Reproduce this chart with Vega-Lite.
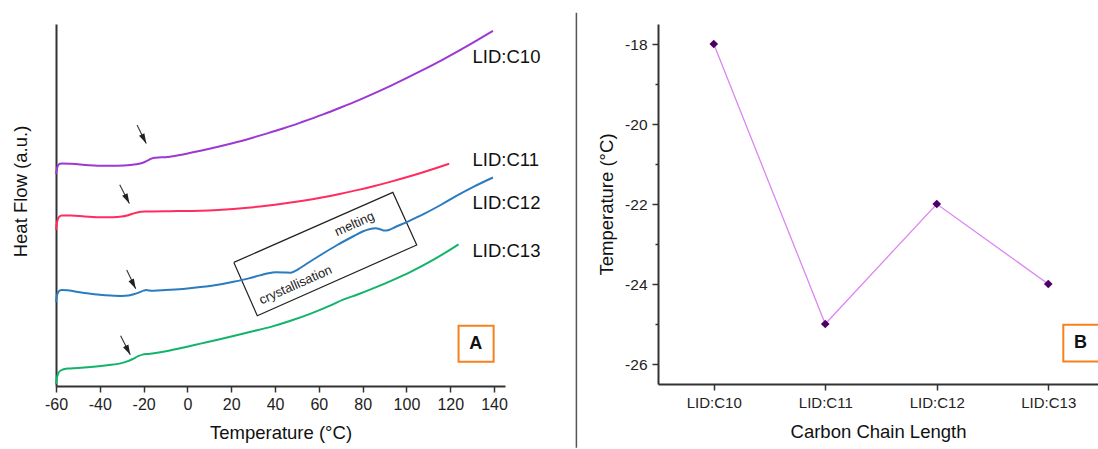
{
  "$schema": "https://vega.github.io/schema/vega-lite/v6.json",
  "background": "white",
  "padding": {"left": 11, "top": 11, "right": 0, "bottom": 0},
  "bounds": "flush",
  "spacing": 153,
  "config": {
    "font": "Liberation Sans",
    "view": {"stroke": null},
    "axis": {
      "grid": false,
      "domainColor": "#333",
      "domainWidth": 2,
      "tickColor": "#333",
      "tickWidth": 1.5,
      "labelFont": "Liberation Sans",
      "labelFontSize": 15.5,
      "labelColor": "#222",
      "titleFont": "Liberation Sans",
      "titleFontSize": 18.5,
      "titleFontWeight": "normal",
      "titleColor": "#111"
    }
  },
  "datasets": {
    "dsc": [
      {"sample": "LID:C10", "T": -60.0, "hf": 212},
      {"sample": "LID:C10", "T": -59.5, "hf": 218},
      {"sample": "LID:C10", "T": -58.8, "hf": 221.5},
      {"sample": "LID:C10", "T": -57.5, "hf": 222.6},
      {"sample": "LID:C10", "T": -53, "hf": 222.2},
      {"sample": "LID:C10", "T": -45, "hf": 220.8},
      {"sample": "LID:C10", "T": -38, "hf": 220.2},
      {"sample": "LID:C10", "T": -32, "hf": 220.3},
      {"sample": "LID:C10", "T": -26, "hf": 221},
      {"sample": "LID:C10", "T": -22, "hf": 222.2},
      {"sample": "LID:C10", "T": -19.5, "hf": 224},
      {"sample": "LID:C10", "T": -17.5, "hf": 226.2},
      {"sample": "LID:C10", "T": -16, "hf": 227.8},
      {"sample": "LID:C10", "T": -14.5, "hf": 228.3},
      {"sample": "LID:C10", "T": -9, "hf": 229},
      {"sample": "LID:C10", "T": -2, "hf": 231.6},
      {"sample": "LID:C10", "T": 6, "hf": 235.2},
      {"sample": "LID:C10", "T": 14, "hf": 239.2},
      {"sample": "LID:C10", "T": 21, "hf": 243.0},
      {"sample": "LID:C10", "T": 29, "hf": 247.8},
      {"sample": "LID:C10", "T": 36.5, "hf": 252.6},
      {"sample": "LID:C10", "T": 44, "hf": 257.7},
      {"sample": "LID:C10", "T": 52, "hf": 263.7},
      {"sample": "LID:C10", "T": 62, "hf": 271.6},
      {"sample": "LID:C10", "T": 70, "hf": 278.5},
      {"sample": "LID:C10", "T": 78, "hf": 285.7},
      {"sample": "LID:C10", "T": 85, "hf": 292.4},
      {"sample": "LID:C10", "T": 93, "hf": 300.4},
      {"sample": "LID:C10", "T": 100, "hf": 307.8},
      {"sample": "LID:C10", "T": 108, "hf": 316.6},
      {"sample": "LID:C10", "T": 116, "hf": 325.7},
      {"sample": "LID:C10", "T": 123, "hf": 334.1},
      {"sample": "LID:C10", "T": 131, "hf": 344.1},
      {"sample": "LID:C10", "T": 139.5, "hf": 355.1},

      {"sample": "LID:C11", "T": -60.0, "hf": 156},
      {"sample": "LID:C11", "T": -59.5, "hf": 164},
      {"sample": "LID:C11", "T": -58.8, "hf": 168.5},
      {"sample": "LID:C11", "T": -57.5, "hf": 170.6},
      {"sample": "LID:C11", "T": -53, "hf": 170.4},
      {"sample": "LID:C11", "T": -47, "hf": 169.6},
      {"sample": "LID:C11", "T": -40, "hf": 168.8},
      {"sample": "LID:C11", "T": -34, "hf": 168.8},
      {"sample": "LID:C11", "T": -30, "hf": 169.4},
      {"sample": "LID:C11", "T": -27.5, "hf": 170.5},
      {"sample": "LID:C11", "T": -25, "hf": 172.3},
      {"sample": "LID:C11", "T": -22.5, "hf": 173.8},
      {"sample": "LID:C11", "T": -19.5, "hf": 174.4},
      {"sample": "LID:C11", "T": -16, "hf": 174.5},
      {"sample": "LID:C11", "T": -8, "hf": 174.8},
      {"sample": "LID:C11", "T": -1.5, "hf": 175.0},
      {"sample": "LID:C11", "T": 6, "hf": 175.3},
      {"sample": "LID:C11", "T": 14, "hf": 176.1},
      {"sample": "LID:C11", "T": 21, "hf": 177.1},
      {"sample": "LID:C11", "T": 29, "hf": 178.6},
      {"sample": "LID:C11", "T": 36, "hf": 180.2},
      {"sample": "LID:C11", "T": 44, "hf": 182.4},
      {"sample": "LID:C11", "T": 52, "hf": 185.0},
      {"sample": "LID:C11", "T": 62, "hf": 188.8},
      {"sample": "LID:C11", "T": 70, "hf": 192.3},
      {"sample": "LID:C11", "T": 78, "hf": 196.1},
      {"sample": "LID:C11", "T": 85, "hf": 199.8},
      {"sample": "LID:C11", "T": 93, "hf": 204.4},
      {"sample": "LID:C11", "T": 100, "hf": 208.7},
      {"sample": "LID:C11", "T": 108, "hf": 214.0},
      {"sample": "LID:C11", "T": 114, "hf": 218.2},
      {"sample": "LID:C11", "T": 119.5, "hf": 222.2},

      {"sample": "LID:C12", "T": -60.0, "hf": 84},
      {"sample": "LID:C12", "T": -59.5, "hf": 91},
      {"sample": "LID:C12", "T": -58.8, "hf": 94.5},
      {"sample": "LID:C12", "T": -57.5, "hf": 96},
      {"sample": "LID:C12", "T": -55, "hf": 95.8},
      {"sample": "LID:C12", "T": -50, "hf": 94},
      {"sample": "LID:C12", "T": -45, "hf": 92.4},
      {"sample": "LID:C12", "T": -40, "hf": 91.2},
      {"sample": "LID:C12", "T": -35, "hf": 90.4},
      {"sample": "LID:C12", "T": -30, "hf": 90},
      {"sample": "LID:C12", "T": -27, "hf": 90.4},
      {"sample": "LID:C12", "T": -24.5, "hf": 91.8},
      {"sample": "LID:C12", "T": -22, "hf": 93.6},
      {"sample": "LID:C12", "T": -20, "hf": 95.4},
      {"sample": "LID:C12", "T": -18.8, "hf": 96},
      {"sample": "LID:C12", "T": -17.5, "hf": 95.5},
      {"sample": "LID:C12", "T": -15.5, "hf": 95.3},
      {"sample": "LID:C12", "T": -10, "hf": 95.9},
      {"sample": "LID:C12", "T": -2, "hf": 97.1},
      {"sample": "LID:C12", "T": 6, "hf": 98.9},
      {"sample": "LID:C12", "T": 14, "hf": 101.3},
      {"sample": "LID:C12", "T": 21, "hf": 104.2},
      {"sample": "LID:C12", "T": 28, "hf": 107.6},
      {"sample": "LID:C12", "T": 33, "hf": 110.6},
      {"sample": "LID:C12", "T": 37, "hf": 112.8},
      {"sample": "LID:C12", "T": 40.5, "hf": 113.7},
      {"sample": "LID:C12", "T": 44, "hf": 113.6},
      {"sample": "LID:C12", "T": 47, "hf": 113.3},
      {"sample": "LID:C12", "T": 49, "hf": 114.8},
      {"sample": "LID:C12", "T": 51.5, "hf": 118},
      {"sample": "LID:C12", "T": 55, "hf": 123},
      {"sample": "LID:C12", "T": 60.8, "hf": 131},
      {"sample": "LID:C12", "T": 68.4, "hf": 141},
      {"sample": "LID:C12", "T": 76, "hf": 150},
      {"sample": "LID:C12", "T": 80, "hf": 154.5},
      {"sample": "LID:C12", "T": 83, "hf": 156.8},
      {"sample": "LID:C12", "T": 86, "hf": 157.7},
      {"sample": "LID:C12", "T": 88, "hf": 156.8},
      {"sample": "LID:C12", "T": 90, "hf": 155.4},
      {"sample": "LID:C12", "T": 92, "hf": 156},
      {"sample": "LID:C12", "T": 94.5, "hf": 158.5},
      {"sample": "LID:C12", "T": 100.4, "hf": 164.2},
      {"sample": "LID:C12", "T": 108, "hf": 172.1},
      {"sample": "LID:C12", "T": 115.6, "hf": 181},
      {"sample": "LID:C12", "T": 123, "hf": 190.3},
      {"sample": "LID:C12", "T": 131, "hf": 199.6},
      {"sample": "LID:C12", "T": 139.5, "hf": 208.5},

      {"sample": "LID:C13", "T": -60.0, "hf": 2},
      {"sample": "LID:C13", "T": -59.6, "hf": 8},
      {"sample": "LID:C13", "T": -59, "hf": 12.5},
      {"sample": "LID:C13", "T": -57.9, "hf": 15.5},
      {"sample": "LID:C13", "T": -54.8, "hf": 17.4},
      {"sample": "LID:C13", "T": -50, "hf": 18},
      {"sample": "LID:C13", "T": -44.2, "hf": 19},
      {"sample": "LID:C13", "T": -36.6, "hf": 20.8},
      {"sample": "LID:C13", "T": -30.5, "hf": 22.6},
      {"sample": "LID:C13", "T": -27.5, "hf": 24.6},
      {"sample": "LID:C13", "T": -25, "hf": 27},
      {"sample": "LID:C13", "T": -22.5, "hf": 29.8},
      {"sample": "LID:C13", "T": -20.5, "hf": 31.4},
      {"sample": "LID:C13", "T": -18, "hf": 32.1},
      {"sample": "LID:C13", "T": -16, "hf": 32.6},
      {"sample": "LID:C13", "T": -8, "hf": 35.5},
      {"sample": "LID:C13", "T": -1.6, "hf": 38.6},
      {"sample": "LID:C13", "T": 6, "hf": 42.4},
      {"sample": "LID:C13", "T": 13.8, "hf": 46.3},
      {"sample": "LID:C13", "T": 21, "hf": 50},
      {"sample": "LID:C13", "T": 28.9, "hf": 54.2},
      {"sample": "LID:C13", "T": 38.5, "hf": 59.4},
      {"sample": "LID:C13", "T": 47.1, "hf": 65.2},
      {"sample": "LID:C13", "T": 56.3, "hf": 72.4},
      {"sample": "LID:C13", "T": 65.4, "hf": 80.6},
      {"sample": "LID:C13", "T": 71.4, "hf": 86.6},
      {"sample": "LID:C13", "T": 73.6, "hf": 88.4},
      {"sample": "LID:C13", "T": 76.8, "hf": 90.8},
      {"sample": "LID:C13", "T": 85.9, "hf": 98.6},
      {"sample": "LID:C13", "T": 94, "hf": 106.2},
      {"sample": "LID:C13", "T": 101.9, "hf": 114.2},
      {"sample": "LID:C13", "T": 112.4, "hf": 126.4},
      {"sample": "LID:C13", "T": 118, "hf": 133.6},
      {"sample": "LID:C13", "T": 123.8, "hf": 141.6}
    ],
    "tg": [
      {"sample": "LID:C10", "carbons": 10, "Tg": -18},
      {"sample": "LID:C11", "carbons": 11, "Tg": -25},
      {"sample": "LID:C12", "carbons": 12, "Tg": -22},
      {"sample": "LID:C13", "carbons": 13, "Tg": -24}
    ],
    "arrows": [
      {"sample": "LID:C10", "T": -23.0, "hf": 261, "T2": -18.8, "hf2": 242.6},
      {"sample": "LID:C11", "T": -30.9, "hf": 201.3, "T2": -26.5, "hf2": 182.6},
      {"sample": "LID:C12", "T": -27.7, "hf": 116, "T2": -23.6, "hf2": 97.3},
      {"sample": "LID:C13", "T": -30.5, "hf": 50.3, "T2": -26.1, "hf2": 31.3}
    ],
    "box": [
      {"corner": 1, "T": 21.2, "hf": 123.6},
      {"corner": 2, "T": 31.9, "hf": 70.3},
      {"corner": 3, "T": 104.7, "hf": 141},
      {"corner": 4, "T": 93.8, "hf": 193.6},
      {"corner": 5, "T": 21.2, "hf": 123.6}
    ],
    "notes": [
      {"note": "crystallisation", "T": 49.4, "hf": 101},
      {"note": "melting", "T": 76.3, "hf": 162}
    ],
    "curveLabels": [
      {"sample": "LID:C10", "T": 130.2, "hf": 329.3},
      {"sample": "LID:C11", "T": 130.2, "hf": 226},
      {"sample": "LID:C12", "T": 130.2, "hf": 182.6},
      {"sample": "LID:C13", "T": 130.2, "hf": 135}
    ]
  },
  "hconcat": [
    {
      "width": 449,
      "height": 362,
      "layer": [
        {
          "data": {"values": [{}]},
          "mark": {"type": "rule", "color": "#555", "strokeWidth": 1.5},
          "encoding": {
            "x": {"datum": 177.6, "type": "quantitative"},
            "y": {"datum": 373.3, "type": "quantitative"},
            "y2": {"datum": -61.7}
          }
        },
        {
          "data": {"name": "box"},
          "mark": {"type": "line", "color": "#222", "strokeWidth": 1.2},
          "encoding": {
            "x": {"field": "T", "type": "quantitative"},
            "y": {"field": "hf", "type": "quantitative"},
            "order": {"field": "corner"}
          }
        },
        {
          "data": {"name": "dsc"},
          "mark": {"type": "line", "strokeWidth": 2, "interpolate": "monotone"},
          "encoding": {
            "x": {
              "field": "T",
              "type": "quantitative",
              "scale": {"domain": [-60, 145], "nice": false, "zero": false},
              "axis": {
                "title": "Temperature (°C)",
                "values": [-60, -50, -40, -30, -20, -10, 0, 10, 20, 30, 40, 50, 60, 70, 80, 90, 100, 110, 120, 130, 140],
                "labelExpr": "datum.value % 20 === 0 ? '' + datum.value : ''",
                "labelOverlap": false,
                "labelFlush": false,
                "labelFontSize": 16,
                "tickSize": {"condition": {"test": "datum.value % 20 === 0", "value": 6}, "value": 3.5},
                "labelPadding": 4,
                "titlePadding": 11
              }
            },
            "y": {
              "field": "hf",
              "type": "quantitative",
              "scale": {"domain": [0, 362], "nice": false, "zero": false},
              "axis": {
                "title": "Heat Flow (a.u.)",
                "labels": false,
                "ticks": false,
                "titlePadding": 26,
                "titleY": 167
              }
            },
            "color": {
              "field": "sample",
              "type": "nominal",
              "scale": {
                "domain": ["LID:C10", "LID:C11", "LID:C12", "LID:C13"],
                "range": ["#9d38d2", "#ff2d5f", "#2b7bbf", "#12b36a"]
              },
              "legend": null
            }
          }
        },
        {
          "data": {"name": "arrows"},
          "mark": {"type": "rule", "color": "#333", "strokeWidth": 1.1},
          "encoding": {
            "x": {"field": "T", "type": "quantitative"},
            "y": {"field": "hf", "type": "quantitative"},
            "x2": {"field": "T2"},
            "y2": {"field": "hf2"}
          }
        },
        {
          "data": {"name": "arrows"},
          "mark": {
            "type": "point",
            "shape": "M0,0L-0.3,-1L0.3,-1Z",
            "size": 400,
            "angle": 333,
            "filled": true,
            "opacity": 1,
            "color": "#222"
          },
          "encoding": {
            "x": {"field": "T2", "type": "quantitative"},
            "y": {"field": "hf2", "type": "quantitative"}
          }
        },
        {
          "data": {"name": "notes"},
          "mark": {
            "type": "text",
            "fontSize": 13,
            "angle": 336,
            "align": "center",
            "baseline": "middle",
            "color": "#222"
          },
          "encoding": {
            "x": {"field": "T", "type": "quantitative"},
            "y": {"field": "hf", "type": "quantitative"},
            "text": {"field": "note"}
          }
        },
        {
          "data": {"name": "curveLabels"},
          "mark": {
            "type": "text",
            "fontSize": 18.5,
            "align": "left",
            "baseline": "middle",
            "color": "#111"
          },
          "encoding": {
            "x": {"field": "T", "type": "quantitative"},
            "y": {"field": "hf", "type": "quantitative"},
            "text": {"field": "sample"}
          }
        },
        {
          "data": {"values": [{}]},
          "mark": {"type": "rect", "fill": "white", "stroke": "#f5821f", "strokeWidth": 2},
          "encoding": {
            "x": {"datum": 123.8, "type": "quantitative"},
            "x2": {"datum": 139.8},
            "y": {"datum": 24.3, "type": "quantitative"},
            "y2": {"datum": 60.3}
          }
        },
        {
          "data": {"values": [{}]},
          "mark": {
            "type": "text",
            "text": "A",
            "fontSize": 18,
            "fontWeight": "bold",
            "align": "center",
            "baseline": "middle",
            "color": "#111"
          },
          "encoding": {
            "x": {"datum": 131.7, "type": "quantitative"},
            "y": {"datum": 42, "type": "quantitative"}
          }
        }
      ]
    },
    {
      "width": 440,
      "height": 360,
      "data": {"name": "tg"},
      "layer": [
        {
          "mark": {"type": "line", "color": "#dc86f2", "strokeWidth": 1.3},
          "encoding": {
            "x": {
              "field": "carbons",
              "type": "quantitative",
              "scale": {"domain": [9.5, 13.446], "nice": false, "zero": false},
              "axis": {
                "title": "Carbon Chain Length",
                "values": [10, 11, 12, 13],
                "labelExpr": "'LID:C' + datum.value",
                "labelOverlap": false,
                "labelFlush": false,
                "labelFontSize": 15,
                "tickSize": 6,
                "labelPadding": 5,
                "titlePadding": 12
              }
            },
            "y": {
              "field": "Tg",
              "type": "quantitative",
              "scale": {"domain": [-26.5, -17.5], "nice": false, "zero": false},
              "axis": {
                "title": "Temperature (°C)",
                "values": [-26, -25, -24, -23, -22, -21, -20, -19, -18],
                "labelExpr": "datum.value % 2 === 0 ? '' + datum.value : ''",
                "labelOverlap": false,
                "labelFlush": false,
                "tickSize": {"condition": {"test": "datum.value % 2 === 0", "value": 6}, "value": 3},
                "labelPadding": 5,
                "titlePadding": 8
              }
            }
          }
        },
        {
          "mark": {"type": "point", "shape": "diamond", "filled": true, "size": 75, "opacity": 1, "color": "#4d0066"},
          "encoding": {
            "x": {"field": "carbons", "type": "quantitative"},
            "y": {"field": "Tg", "type": "quantitative"}
          }
        },
        {
          "data": {"values": [{}]},
          "mark": {"type": "rect", "fill": "white", "stroke": "#f5821f", "strokeWidth": 2, "clip": true},
          "encoding": {
            "x": {"datum": 13.135, "type": "quantitative"},
            "x2": {"datum": 14},
            "y": {"datum": -25.02, "type": "quantitative"},
            "y2": {"datum": -25.94}
          }
        },
        {
          "data": {"values": [{}]},
          "mark": {
            "type": "text",
            "text": "B",
            "fontSize": 18,
            "fontWeight": "bold",
            "align": "center",
            "baseline": "middle",
            "color": "#111"
          },
          "encoding": {
            "x": {"datum": 13.29, "type": "quantitative"},
            "y": {"datum": -25.48, "type": "quantitative"}
          }
        }
      ]
    }
  ]
}
